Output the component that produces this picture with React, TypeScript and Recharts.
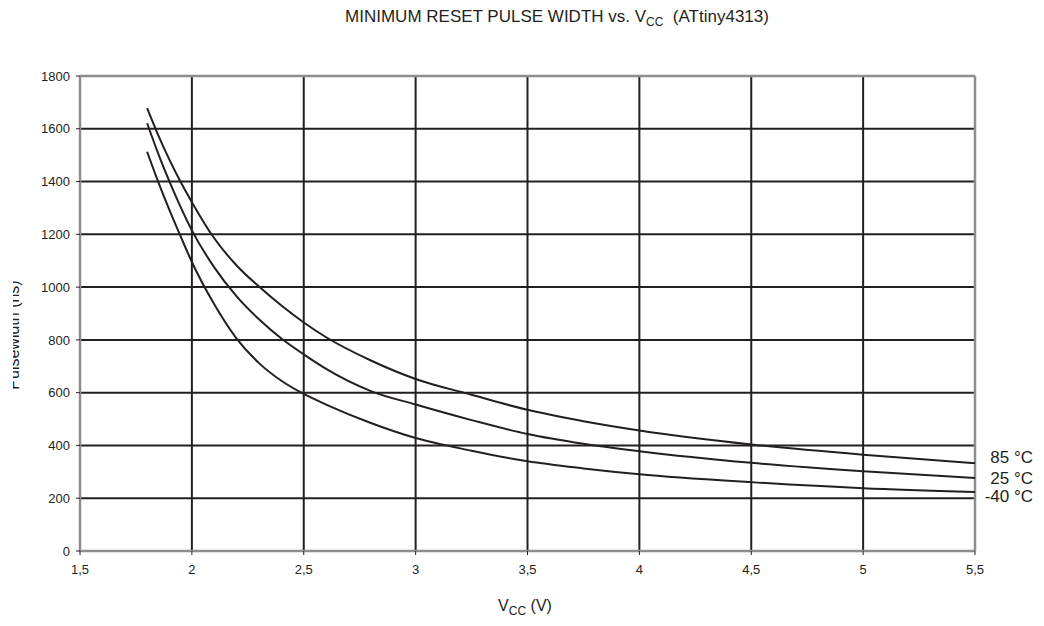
import React from 'react';
import { LineChart, Line, XAxis, YAxis, ReferenceLine } from 'recharts';

const vcc = [1.8, 1.85, 1.9, 1.95, 2.0, 2.1, 2.2, 2.3, 2.4, 2.5, 2.6, 2.8, 3.0, 3.25, 3.5, 3.75, 4.0, 4.5, 5.0, 5.5];
const t85 = [1678, 1575, 1482, 1398, 1322, 1185, 1082, 1002, 930, 866, 810, 722, 652, 592, 535, 492, 457, 404, 365, 333];
const t25 = [1621, 1505, 1400, 1303, 1215, 1075, 965, 878, 805, 745, 690, 606, 555, 496, 443, 406, 378, 334, 302, 277];
const tm40 = [1513, 1398, 1292, 1192, 1095, 935, 805, 712, 645, 595, 555, 485, 428, 380, 340, 313, 291, 261, 238, 224];

const xTicks = [1.5, 2, 2.5, 3, 3.5, 4, 4.5, 5, 5.5];
const yTicks = [0, 200, 400, 600, 800, 1000, 1200, 1400, 1600, 1800];
const seriesNames = ['85 °C', '25 °C', '-40 °C'];

const data = vcc.map((v, i) => ({ vcc: v, t85: t85[i], t25: t25[i], tm40: tm40[i] }));

const FONT = '"Liberation Sans", Arial, sans-serif';
const INK = '#231f20';
const GRAY = '#8e8e8e';

const endLabel = (name: string, dy: number) => (props: any) => {
  if (props.index !== vcc.length - 1) return null;
  return (
    <text x={props.x + 58} y={props.y + dy} textAnchor="end" fontSize={17} fontFamily={FONT} fill={INK}>
      {name}
    </text>
  );
};

const YLabel = () => (
  <g>
    <defs>
      <clipPath id="ylabelclip">
        <rect x={13} y={0} width={200} height={626} />
      </clipPath>
    </defs>
    <g clipPath="url(#ylabelclip)">
      <text x={19} y={335} transform="rotate(-90 19 335)" textAnchor="middle" fontSize={16} fontFamily={FONT} fill={INK}>
        Pulsewidth (ns)
      </text>
    </g>
  </g>
);

const XLabel = () => (
  <text x={525} y={611} textAnchor="middle" fontSize={16} fontFamily={FONT} fill={INK}>
    V<tspan fontSize={12} dy={4}>CC</tspan>
    <tspan dy={-4}> (V)</tspan>
  </text>
);

export default function App() {
  const tickStyle = { fontSize: 13, fontFamily: FONT, fill: INK };
  return (
    <div style={{ position: 'absolute', left: 0, top: 0, width: 1044, height: 626, background: '#fff' }}>
      <div
        style={{
          position: 'absolute',
          left: 257,
          top: 7,
          width: 600,
          textAlign: 'center',
          fontFamily: FONT,
          fontSize: 17,
          lineHeight: '20px',
          color: INK,
          whiteSpace: 'pre',
        }}
      >
        MINIMUM RESET PULSE WIDTH vs. V
        <span style={{ fontSize: 12, verticalAlign: 'sub' }}>CC</span>
        {'  (ATtiny4313)'}
      </div>
      <LineChart width={1044} height={626} data={data} margin={{ top: 76, right: 69, bottom: 0, left: 20 }}>
        {yTicks.slice(1, -1).map((v) => (
          <ReferenceLine key={'h' + v} y={v} stroke={INK} strokeWidth={2} />
        ))}
        {xTicks.slice(1, -1).map((v) => (
          <ReferenceLine key={'v' + v} x={v} stroke={INK} strokeWidth={2} />
        ))}
        <ReferenceLine y={1800} stroke={GRAY} strokeWidth={2.5} />
        <ReferenceLine x={5.5} stroke={GRAY} strokeWidth={2.5} />
        <XAxis
          dataKey="vcc"
          type="number"
          domain={[1.5, 5.5]}
          ticks={xTicks}
          height={75}
          tickSize={4}
          tickMargin={10}
          tick={tickStyle}
          tickFormatter={(v: number) => String(v).replace('.', ',')}
          axisLine={{ stroke: GRAY, strokeWidth: 2.5 }}
          tickLine={{ stroke: INK }}
          label={<XLabel />}
        />
        <YAxis
          type="number"
          domain={[0, 1800]}
          ticks={yTicks}
          width={60}
          tickSize={4}
          tickMargin={6}
          tick={tickStyle}
          axisLine={{ stroke: GRAY, strokeWidth: 2.5 }}
          tickLine={{ stroke: INK }}
          label={<YLabel />}
        />
        <Line type="monotone" dataKey="t85" stroke={INK} strokeWidth={2} dot={false} isAnimationActive={false} label={endLabel(seriesNames[0], 0)} />
        <Line type="monotone" dataKey="t25" stroke={INK} strokeWidth={2} dot={false} isAnimationActive={false} label={endLabel(seriesNames[1], 6)} />
        <Line type="monotone" dataKey="tm40" stroke={INK} strokeWidth={2} dot={false} isAnimationActive={false} label={endLabel(seriesNames[2], 10)} />
      </LineChart>
    </div>
  );
}
